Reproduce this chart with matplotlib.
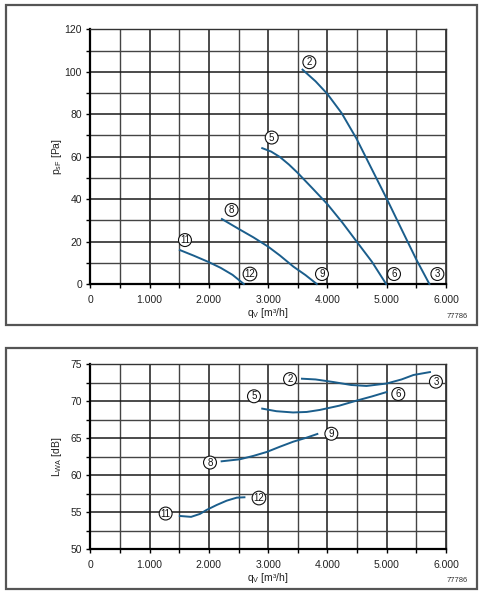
import matplotlib.pyplot as plt
from matplotlib.patches import Rectangle
from matplotlib.ticker import FuncFormatter, MultipleLocator

plt.rcParams['font.family'] = ['Liberation Sans', 'DejaVu Sans']

# pressure curves (q_V in m3/h, p_sF in Pa)
q_2_3 = [3580, 3800, 4000, 4240, 4490, 4740, 5000, 5250, 5500, 5720]
p_2_3 = [101, 95.5, 89.5, 80.5, 68.5, 54.6, 40.2, 25.8, 11.5, 0]
q_5_6 = [2900, 3050, 3200, 3350, 3500, 3750, 4000, 4250, 4490, 4750, 4990]
p_5_6 = [64, 62.4, 59.8, 56.3, 52.3, 45, 37.6, 29, 20.1, 10.5, 0]
q_8_9 = [2220, 2500, 2750, 3000, 3200, 3425, 3630, 3820]
p_8_9 = [30.6, 26, 22, 17.6, 13.4, 8.2, 4.2, 0]
q_11_12 = [1510, 1750, 2000, 2200, 2400, 2590]
p_11_12 = [16, 13.3, 10.3, 7.6, 4.3, 0]

# sound power curves (L_WA in dB)
lq_2_3 = [3570, 3800, 4100, 4400, 4660, 5000, 5250, 5450, 5730]
lw_2_3 = [73.05, 72.95, 72.6, 72.2, 72.07, 72.4, 72.95, 73.55, 73.95]
lq_5_6 = [2900, 3140, 3420, 3650, 3870, 4200, 4490, 4750, 5000]
lw_5_6 = [69.0, 68.65, 68.48, 68.55, 68.82, 69.4, 70.08, 70.65, 71.25]
lq_8_9 = [2215, 2520, 2750, 2975, 3200, 3425, 3640, 3830]
lw_8_9 = [61.87, 62.14, 62.6, 63.13, 63.85, 64.53, 65.05, 65.57]
lq_11_12 = [1510, 1700, 1850, 1960, 2130, 2300, 2470, 2600]
lw_11_12 = [54.47, 54.35, 54.75, 55.28, 55.95, 56.54, 56.95, 57.0]

# curve end labels: (number, q, value)
p_labels = [("2", 3695, 104.5), ("3", 5855, 4.7), ("5", 3060, 69), ("6", 5123, 4.7),
            ("8", 2384, 34.9), ("9", 3908, 4.7), ("11", 1597, 20.7), ("12", 2693, 4.7)]
l_labels = [("2", 3369, 73.0), ("3", 5830, 72.65), ("5", 2761, 70.67), ("6", 5195, 70.98),
            ("8", 2019, 61.7), ("9", 4066, 65.6), ("11", 1271, 54.8), ("12", 2845, 56.9)]

line_color = "#1b5e8c"
grid_color = "#333333"

fig = plt.figure(figsize=(4.84, 5.95), dpi=100)

# panel frames
for y0, h in [(270 / 595, 320 / 595), (6 / 595, 241 / 595)]:
    fig.patches.append(Rectangle((6 / 484, y0), 471 / 484, h, transform=fig.transFigure,
                                 fill=False, edgecolor="#555555", linewidth=1.6))

ax1 = fig.add_axes([90.3 / 484, 311 / 595, 355.7 / 484, 254.7 / 595])
ax2 = fig.add_axes([90.3 / 484, 46 / 595, 355.7 / 484, 184.7 / 595])

thousands = FuncFormatter(lambda v, pos: "0" if v == 0 else f"{int(v) // 1000}.{int(v) % 1000:03d}")


def style(ax, ymin, ymax, ymajor, yminor):
    ax.set_xlim(0, 6000)
    ax.set_ylim(ymin, ymax)
    ax.xaxis.set_major_locator(MultipleLocator(1000))
    ax.xaxis.set_minor_locator(MultipleLocator(500))
    ax.yaxis.set_major_locator(MultipleLocator(ymajor))
    ax.yaxis.set_minor_locator(MultipleLocator(yminor))
    ax.xaxis.set_major_formatter(thousands)
    ax.grid(True, which="major", color="#1a1a1a", linewidth=1.1)
    ax.grid(True, which="minor", color="#444444", linewidth=1.0)
    ax.set_axisbelow(True)
    ax.tick_params(which="both", direction="out", length=3, width=1, color="black",
                   labelsize=7.5, labelcolor="#222222")
    ax.tick_params(axis="x", pad=5)
    ax.tick_params(axis="y", pad=3)
    for s in ["top", "right"]:
        ax.spines[s].set_color(grid_color)
        ax.spines[s].set_linewidth(1.0)
    for s in ["left", "bottom"]:
        ax.spines[s].set_color("black")
        ax.spines[s].set_linewidth(1.6)


def circled(ax, labels):
    for txt, x, y in labels:
        ax.text(x, y, txt, ha="center", va="center", fontsize=7, color="#111111",
                bbox=dict(boxstyle="circle,pad=0.15", fc="white", ec="#111111", lw=0.8),
                zorder=5)


style(ax1, 0, 120, 20, 10)
style(ax2, 50, 75, 5, 2.5)

for q, p in [(q_2_3, p_2_3), (q_5_6, p_5_6), (q_8_9, p_8_9), (q_11_12, p_11_12)]:
    ax1.plot(q, p, color=line_color, linewidth=1.4, zorder=4, clip_on=False)
for q, l in [(lq_2_3, lw_2_3), (lq_5_6, lw_5_6), (lq_8_9, lw_8_9), (lq_11_12, lw_11_12)]:
    ax2.plot(q, l, color=line_color, linewidth=1.4, zorder=4, clip_on=False)

circled(ax1, p_labels)
circled(ax2, l_labels)

# axis titles
fig.text(268 / 484, 1 - 313 / 595, r"q$_\mathregular{V}$ [m³/h]", ha="center", va="center",
         fontsize=7.5, color="#222222")
fig.text(57 / 484, 1 - 157 / 595, r"p$_\mathregular{sF}$ [Pa]", ha="center", va="center",
         rotation=90, fontsize=7.5, color="#222222")
fig.text(268 / 484, 1 - 578 / 595, r"q$_\mathregular{V}$ [m³/h]", ha="center", va="center",
         fontsize=7.5, color="#222222")
fig.text(57 / 484, 1 - 457 / 595, r"L$_\mathregular{WA}$ [dB]", ha="center", va="center",
         rotation=90, fontsize=7.5, color="#222222")
fig.text(457 / 484, 1 - 317 / 595, "77786", ha="center", va="center", fontsize=5.5, color="#333333")
fig.text(457 / 484, 1 - 581 / 595, "77786", ha="center", va="center", fontsize=5.5, color="#333333")

fig.savefig("out.png", dpi=100)
